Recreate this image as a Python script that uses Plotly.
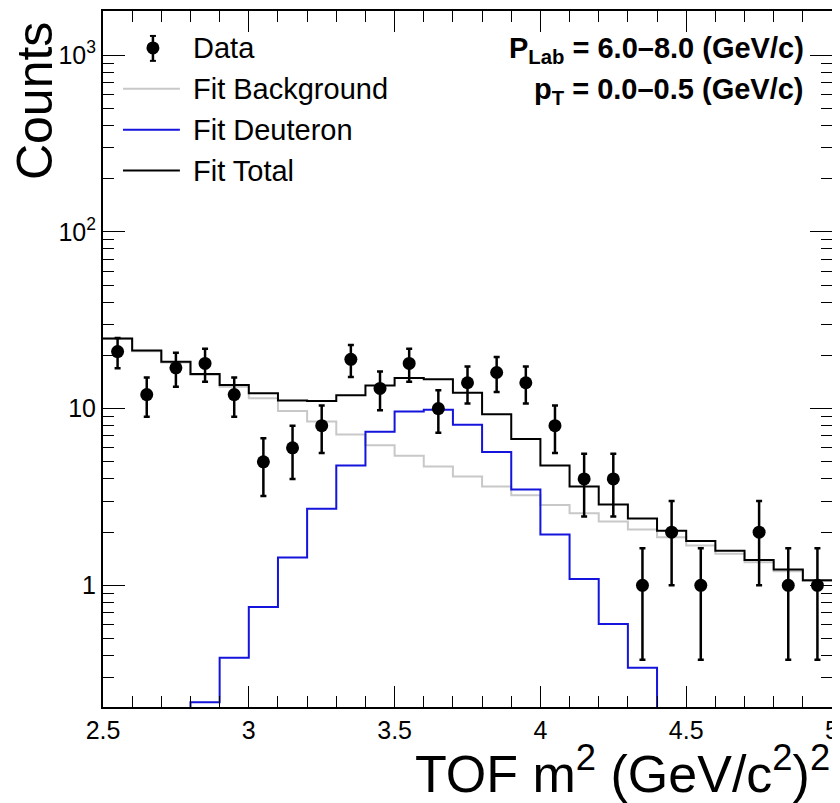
import plotly.graph_objects as go

# TOF m^2 bins (GeV/c^2)^2
bin_edges = [2.5, 2.6, 2.7, 2.8, 2.9, 3.0, 3.1, 3.2, 3.3, 3.4, 3.5, 3.6, 3.7,
             3.8, 3.9, 4.0, 4.1, 4.2, 4.3, 4.4, 4.5, 4.6, 4.7, 4.8, 4.9, 5.0]
bin_centers = [2.55, 2.65, 2.75, 2.85, 2.95, 3.05, 3.15, 3.25, 3.35, 3.45, 3.55, 3.65, 3.75,
               3.85, 3.95, 4.05, 4.15, 4.25, 4.35, 4.45, 4.55, 4.65, 4.75, 4.85, 4.95]

# data counts and their errors
data_counts = [21, 12, 17, 18, 12, 5, 6, 8, 19, 13, 18, 10, 14,
               16, 14, 8, 4, 4, 1, 2, 1, None, 2, 1, 1]
data_errors = [4.1, 3.0, 3.7, 3.8, 3.0, 1.8, 2.0, 2.4, 3.9, 3.2, 3.8, 2.7, 3.3,
               3.6, 3.3, 2.4, 1.55, 1.55, 0.62, 1.0, 0.62, None, 1.0, 0.62, 0.62]

fit_background = [24.8, 21.1, 18.2, 15.5, 13.3, 11.45, 9.7, 8.45, 7.13, 6.21, 5.41, 4.71, 4.13,
                  3.63, 3.23, 2.85, 2.56, 2.30, 2.07, 1.87, 1.68, 1.51, 1.35, 1.20, 1.06]
fit_deuteron = [0.03, 0.06, 0.11, 0.218, 0.389, 0.755, 1.44, 2.71, 4.77, 7.39, 9.62, 9.84, 8.09,
                5.68, 3.49, 1.94, 1.086, 0.605, 0.342, 0.17, 0.08, 0.03, 0.01, 0.005, 0.002]
fit_total = [24.9, 21.3, 18.4, 15.7, 13.6, 12.2, 11.1, 11.05, 11.9, 13.5, 14.9, 14.65, 12.3,
             9.3, 6.72, 4.77, 3.62, 2.87, 2.39, 2.04, 1.78, 1.57, 1.39, 1.23, 1.07]

FONT = "Liberation Sans, Arial, sans-serif"

# the page body has an 8px margin, so the figure is drawn 8px in from the window corner
OFF = 8
W, H = 840 - OFF, 803 - OFF
# plot frame in window pixels
L, R, T, B = 103, 833, 9, 707


def px2x(px):
    return (px - L) / (R - L)


def px2y(py):
    return (B - py) / (B - T)


def step(values):
    return values + [values[-1]]


fig = go.Figure()

fig.add_trace(go.Scatter(
    x=bin_edges, y=step(fit_background), mode="lines", line_shape="hv",
    line=dict(color="#c8c8c8", width=2), name="Fit Background", showlegend=False
))
fig.add_trace(go.Scatter(
    x=bin_edges, y=step(fit_deuteron), mode="lines", line_shape="hv",
    line=dict(color="#1414dc", width=2), name="Fit Deuteron", showlegend=False
))
fig.add_trace(go.Scatter(
    x=bin_edges, y=step(fit_total), mode="lines", line_shape="hv",
    line=dict(color="black", width=2), name="Fit Total", showlegend=False
))
fig.add_trace(go.Scatter(
    x=bin_centers, y=data_counts, mode="markers", name="Data", showlegend=False,
    marker=dict(color="black", size=13),
    error_y=dict(type="data", array=data_errors, color="black", thickness=2.5, width=3)
))

# legend drawn by hand, ROOT style
shapes = []
annotations = []
leg_text = [("Data", 46), ("Fit Background", 87), ("Fit Deuteron", 128), ("Fit Total", 169)]
for txt, py in leg_text:
    annotations.append(dict(
        x=px2x(191), y=px2y(py), xref="paper", yref="paper", xanchor="left", yanchor="middle",
        text=txt, showarrow=False, font=dict(family=FONT, size=29, color="black")
    ))
for color, py in [("#c8c8c8", 87), ("#1414dc", 128), ("black", 169)]:
    shapes.append(dict(type="line", xref="paper", yref="paper",
                       x0=px2x(123), x1=px2x(180), y0=px2y(py), y1=px2y(py),
                       line=dict(color=color, width=2)))
# data symbol: dot with error bar
shapes.append(dict(type="line", xref="paper", yref="paper",
                   x0=px2x(153), x1=px2x(153), y0=px2y(34), y1=px2y(59),
                   line=dict(color="black", width=2.5)))
for py in (34, 59):
    shapes.append(dict(type="line", xref="paper", yref="paper",
                       x0=px2x(150), x1=px2x(156), y0=px2y(py), y1=px2y(py),
                       line=dict(color="black", width=2)))
shapes.append(dict(type="circle", xref="paper", yref="paper",
                   x0=px2x(146.5), x1=px2x(159.5), y0=px2y(39.5), y1=px2y(52.5),
                   fillcolor="black", line=dict(color="black", width=0)))

# kinematic range labels
annotations.append(dict(
    x=px2x(807), y=px2y(48), xref="paper", yref="paper", xanchor="right", yanchor="middle",
    text="<b>P<sub>Lab</sub> = 6.0\u20138.0 (GeV/c)</b>", showarrow=False,
    font=dict(family=FONT, size=29, color="black")
))
annotations.append(dict(
    x=px2x(807), y=px2y(89), xref="paper", yref="paper", xanchor="right", yanchor="middle",
    text="<b>p<sub>T</sub> = 0.0\u20130.5 (GeV/c)</b>", showarrow=False,
    font=dict(family=FONT, size=29, color="black")
))

# axis titles
annotations.append(dict(
    x=1.0, y=px2y(770), xref="paper", yref="paper", xanchor="right", yanchor="middle",
    text="TOF m<sup>2</sup> (GeV/c<sup>2</sup>)<sup>2</sup>", showarrow=False,
    font=dict(family=FONT, size=52, color="black")
))
annotations.append(dict(
    x=px2x(35), y=px2y(18), xref="paper", yref="paper", xanchor="center", yanchor="top",
    text="Counts", textangle=-90, showarrow=False,
    font=dict(family=FONT, size=50, color="black")
))

fig.update_layout(
    width=W, height=H, autosize=False,
    margin=dict(l=L - OFF, r=W - (R - OFF), t=T - OFF, b=H - (B - OFF)),
    paper_bgcolor="white", plot_bgcolor="white",
    font=dict(family=FONT, color="black"),
    shapes=shapes, annotations=annotations,
    showlegend=False
)
fig.update_xaxes(
    range=[2.5, 5.0], dtick=0.5, tick0=2.5,
    showgrid=False, zeroline=False,
    showline=True, linecolor="black", linewidth=2, mirror="allticks",
    ticks="inside", ticklen=21, tickwidth=1, tickcolor="black",
    minor=dict(ticks="inside", dtick=0.1, ticklen=11, tickwidth=1, tickcolor="black", showgrid=False),
    tickfont=dict(family=FONT, size=25, color="black")
)
fig.update_yaxes(
    type="log", range=[-0.688, 3.249],
    tickvals=[1, 10, 100, 1000], ticktext=["1", "10", "10<sup>2</sup>", "10<sup>3</sup>"],
    showgrid=False, zeroline=False,
    showline=True, linecolor="black", linewidth=2, mirror="allticks",
    ticks="inside", ticklen=22, tickwidth=1, tickcolor="black",
    minor=dict(ticks="inside", dtick="D1", ticklen=11, tickwidth=1, tickcolor="black", showgrid=False),
    tickfont=dict(family=FONT, size=25, color="black")
)

fig.write_html("out.html")
